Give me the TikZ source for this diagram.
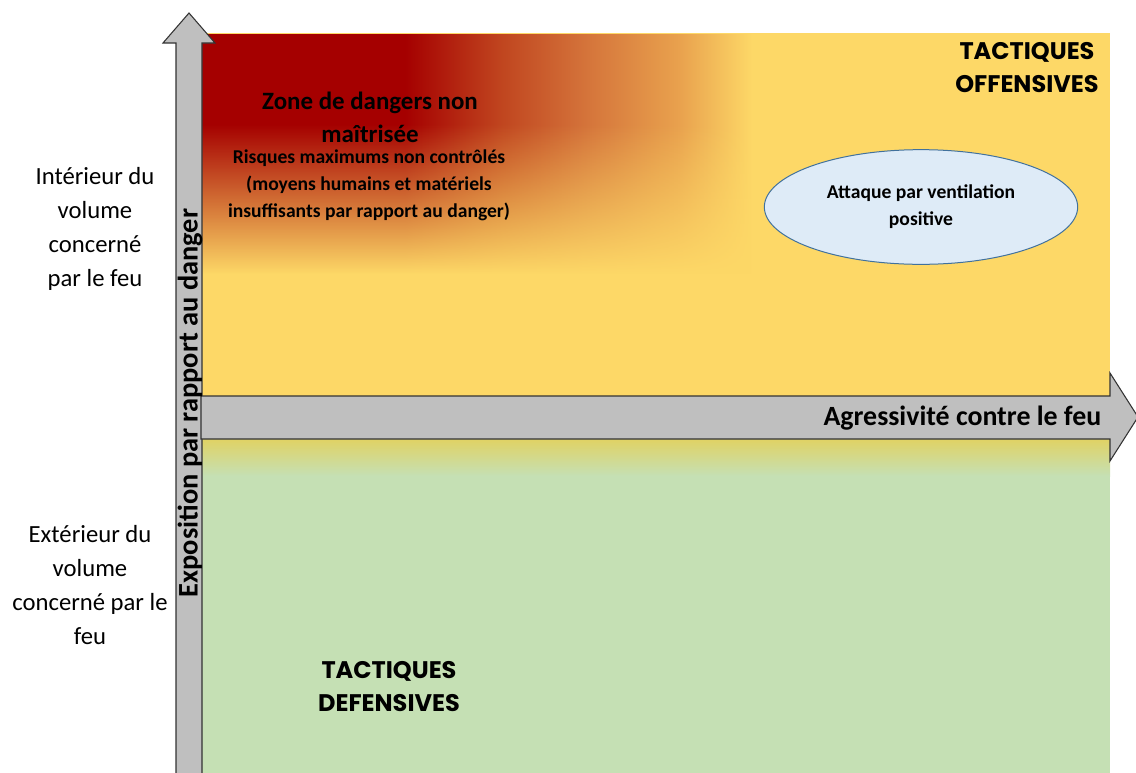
\documentclass[tikz,border=0pt]{standalone}
\usepackage{fontspec}
\setmainfont{Carlito}
\newfontfamily\geofont{Poppins}
\usetikzlibrary{shapes.geometric, fadings, positioning}

\definecolor{fireRed}{HTML}{A50000}
\definecolor{fireMid}{HTML}{C0451F}
\definecolor{fireOrange}{HTML}{D4733A}
\definecolor{fireLight}{HTML}{E9A24E}
\definecolor{offYellow}{HTML}{FDD867}
\definecolor{defGreen}{HTML}{C5E0B4}
\definecolor{defTop}{HTML}{E0D264}
\definecolor{arrowGrey}{HTML}{BFBFBF}
\definecolor{ventBlue}{HTML}{DEEBF7}
\definecolor{ventEdge}{HTML}{41719C}

\pgfdeclarehorizontalshading{redzone}{100bp}{color(0bp)=(fireRed); color(25bp)=(fireRed); color(42bp)=(fireRed); color(50bp)=(fireMid); color(57bp)=(fireOrange); color(65bp)=(fireLight); color(71bp)=(offYellow); color(100bp)=(offYellow)}

\begin{tikzfadingfrompicture}[name=redfade]
  \path (0,0) rectangle (2,2);
  \fill[transparent!0] (0,1.25) rectangle (2,2);
  \shade[top color=transparent!0, bottom color=transparent!100] (0,0.2) rectangle (2,1.25);
\end{tikzfadingfrompicture}

\tikzset{
  arrowbox/.style={fill=arrowGrey, draw=black!80, line width=0.8pt, line join=miter},
  tactique/.style={font=\geofont\bfseries\fontsize{18}{24.75}\selectfont, align=center},
  side/.style={font=\fontsize{18.5}{25.5}\selectfont, align=center},
}

\begin{document}
\begin{tikzpicture}[x=0.75pt, y=-0.75pt]
  \useasboundingbox (0,0) rectangle (1136,772);
  % zones
  \fill[offYellow] (202,33) rectangle (1110,397);
  \path[shading=redzone, path fading=redfade] (202,34) rectangle (800,285);
  \fill[defGreen] (202,439) rectangle (1110,780);
  \shade[top color=defTop, bottom color=defGreen] (202,439) rectangle (1110,476);

  % axes
  \draw[arrowbox] (176,790) -- (176,43) -- (163,43) -- (189,13) -- (215,43) -- (202,43) -- (202,790) -- cycle;
  \draw[arrowbox] (201,396) -- (1110,396) -- (1110,373) -- (1138,417) -- (1110,461) -- (1110,439) -- (201,439) -- cycle;

  \node[rotate=90, font=\bfseries\fontsize{21.3}{25}\selectfont] (exposition) at (190,403) {Exposition par rapport au danger};
  \node[anchor=east, font=\bfseries\fontsize{20.9}{24}\selectfont] (agress) at (1106,418) {Agressivité contre le feu};

  % texts
  \node[align=center, font=\bfseries\fontsize{18.7}{24.75}\selectfont] (zone) at (370,117) {Zone de dangers non\\maîtrisée};
  \node[align=center, font=\bfseries\fontsize{14.7}{20.25}\selectfont] (risques) at (369,185) {Risques maximums non contrôlés\\(moyens humains et matériels\\insuffisants par rapport au danger)};
  \node[tactique] (offensives) at (1027,68) {TACTIQUES\\OFFENSIVES};
  \node[tactique] (defensives) at (389,687) {TACTIQUES\\DEFENSIVES};
  \node[ellipse, draw=ventEdge, fill=ventBlue, line width=0.75pt, minimum width=235pt, minimum height=86pt, inner sep=0pt, align=center, font=\bfseries\fontsize{14.7}{20.25}\selectfont] (ventil) at (921,207) {Attaque par ventilation\\positive};

  \node[side] (interieur) at (95,229) {Intérieur du\\volume\\concerné\\par le feu};
  \node[side] (exterieur) at (90,585) {Extérieur du\\volume\\concerné par le\\feu};
\end{tikzpicture}
\end{document}
